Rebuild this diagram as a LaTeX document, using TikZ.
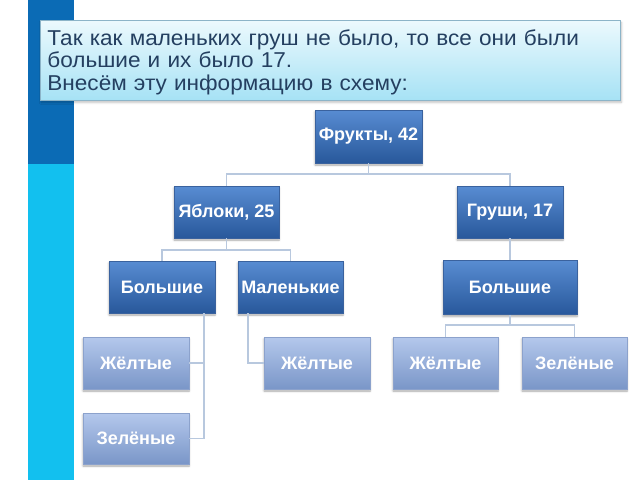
\documentclass[tikz,border=0pt]{standalone}
\usepackage{fontspec}
\setmainfont{Liberation Sans}
\newfontfamily\titlefont[FakeStretch=1.05]{Liberation Sans}
\usetikzlibrary{shadows.blur}
\definecolor{barDark}{RGB}{11,107,181}
\definecolor{barLight}{RGB}{18,192,239}
\definecolor{titleTop}{RGB}{236,249,253}
\definecolor{titleBot}{RGB}{166,226,245}
\definecolor{titleLine}{RGB}{140,180,200}
\definecolor{titleText}{RGB}{36,63,96}
\definecolor{dTop}{RGB}{88,140,210}
\definecolor{dBot}{RGB}{40,88,155}
\definecolor{dLine}{RGB}{58,98,158}
\definecolor{lTop}{RGB}{180,200,236}
\definecolor{lBot}{RGB}{122,150,200}
\definecolor{lLine}{RGB}{140,162,204}
\definecolor{conn}{RGB}{184,200,222}
\tikzset{
  basebox/.style={rectangle, inner sep=2pt, align=center, text=white,
    font=\fontsize{18}{20}\selectfont\bfseries, line width=0.6pt,
    blur shadow={shadow blur steps=6, shadow xshift=0pt, shadow yshift=-2pt, shadow opacity=35}},
  dbox/.style={basebox, top color=dTop, bottom color=dBot, draw=dLine},
  lbox/.style={basebox, top color=lTop, bottom color=lBot, draw=lLine},
  link/.style={draw=conn, line width=1.6pt},
}
\begin{document}
\begin{tikzpicture}[x=1pt,y=-1pt]
\useasboundingbox (0,0) rectangle (640,480);
% left bar
\fill[barDark] (28,0) rectangle (74,164);
\fill[barLight] (28,164) rectangle (74,480);
% title
\node[rectangle, anchor=north west, minimum width=580pt, minimum height=80pt,
  text width=566pt, inner xsep=7pt, inner ysep=0pt, align=left,
  top color=titleTop, bottom color=titleBot, draw=titleLine, line width=0.8pt,
  text=titleText, font=\titlefont\fontsize{21.5}{22.5}\selectfont,
  blur shadow={shadow blur steps=5, shadow xshift=1pt, shadow yshift=-2pt, shadow opacity=25}]
  (title) at (40,20) {\rule{0pt}{19pt}Так как маленьких груш не было, то все они были\\большие и их было 17.\\Внесём эту информацию в схему:};
% nodes
\node[dbox, minimum width=107pt, minimum height=53pt] (fr) at (368.5,136.5) {Фрукты, 42};
\node[dbox, minimum width=105pt, minimum height=52pt] (ya) at (226.5,212) {Яблоки, 25};
\node[dbox, minimum width=106pt, minimum height=52pt] (gr) at (510,212) {Груши, 17};
\node[dbox, minimum width=106pt, minimum height=52pt] (bl) at (162,287) {Большие};
\node[dbox, minimum width=105pt, minimum height=52pt] (ml) at (290.5,287) {Маленькие};
\node[dbox, minimum width=134pt, minimum height=54pt] (br) at (510,287.5) {Большие};
\node[lbox, minimum width=106pt, minimum height=52pt] (yl) at (136,363) {Жёлтые};
\node[lbox, minimum width=106pt, minimum height=51pt] (zl) at (136,438.5) {Зелёные};
\node[lbox, minimum width=106pt, minimum height=52pt] (ym) at (317,363) {Жёлтые};
\node[lbox, minimum width=105pt, minimum height=52pt] (yr) at (445.5,363) {Жёлтые};
\node[lbox, minimum width=105pt, minimum height=52pt] (zr) at (574.5,363) {Зелёные};
% connectors
\coordinate (b1) at (368.5,174);
\draw[link] (fr.south) -- (b1);
\draw[link] (b1) -| (ya.north);
\draw[link] (b1) -| (gr.north);
\coordinate (b2) at (226.5,250);
\draw[link] (ya.south) -- (b2);
\draw[link] (b2) -| (bl.north);
\draw[link] (b2) -| (ml.north);
\draw[link] (gr.south) -- (br.north);
\coordinate (b3) at (510,325);
\draw[link] (br.south) -- (b3);
\draw[link] (b3) -| (yr.north);
\draw[link] (b3) -| (zr.north);
\coordinate (b4) at (204,313);
\draw[link] (b4) |- (zl.east);
\draw[link] (yl.east) -- (yl.east -| b4);
\coordinate (b5) at (248,313);
\draw[link] (b5) |- (ym.west);
\end{tikzpicture}
\end{document}
